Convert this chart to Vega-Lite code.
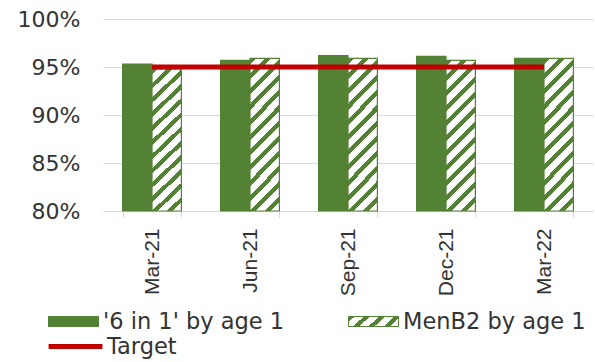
{
  "$schema": "https://vega.github.io/schema/vega-lite/v6.json",
  "width": 490,
  "height": 192,
  "autosize": {"type": "none"},
  "padding": {"left": 103, "top": 19, "right": 2, "bottom": 151},
  "background": "white",
  "config": {
    "view": {"stroke": null},
    "font": "DejaVu Sans"
  },
  "datasets": {
    "bars": [
      {"period": "Mar-21", "series": "'6 in 1' by age 1", "value": 0.953},
      {"period": "Mar-21", "series": "MenB2 by age 1", "value": 0.948},
      {"period": "Jun-21", "series": "'6 in 1' by age 1", "value": 0.957},
      {"period": "Jun-21", "series": "MenB2 by age 1", "value": 0.959},
      {"period": "Sep-21", "series": "'6 in 1' by age 1", "value": 0.962},
      {"period": "Sep-21", "series": "MenB2 by age 1", "value": 0.959},
      {"period": "Dec-21", "series": "'6 in 1' by age 1", "value": 0.961},
      {"period": "Dec-21", "series": "MenB2 by age 1", "value": 0.957},
      {"period": "Mar-22", "series": "'6 in 1' by age 1", "value": 0.959},
      {"period": "Mar-22", "series": "MenB2 by age 1", "value": 0.959}
    ],
    "target": [
      {"period": "Mar-21", "name": "Target", "target": 0.95},
      {"period": "Jun-21", "name": "Target", "target": 0.95},
      {"period": "Sep-21", "name": "Target", "target": 0.95},
      {"period": "Dec-21", "name": "Target", "target": 0.95},
      {"period": "Mar-22", "name": "Target", "target": 0.95}
    ]
  },
  "layer": [
    {
      "data": {"name": "bars"},
      "mark": {"type": "bar", "stroke": "#548235", "strokeWidth": 1.2},
      "encoding": {
        "x": {
          "field": "period", "type": "nominal",
          "sort": ["Mar-21", "Jun-21", "Sep-21", "Dec-21", "Mar-22"],
          "scale": {"paddingInner": 0.4, "paddingOuter": 0.2},
          "axis": {
            "title": null, "labelAngle": -90, "labelFont": "Liberation Sans", "labelFontSize": 21,
            "labelColor": "#333333", "tickBand": "extent", "tickSize": 6, "tickColor": "#d9d9d9",
            "domainColor": "#d9d9d9", "labelPadding": 11, "grid": false
          }
        },
        "xOffset": {"field": "series", "type": "nominal", "sort": ["'6 in 1' by age 1", "MenB2 by age 1"]},
        "y": {
          "field": "value", "type": "quantitative",
          "scale": {"domain": [0.8, 1], "zero": false},
          "axis": {
            "title": null, "values": [0.8, 0.85, 0.9, 0.95, 1], "format": ".0%", "domain": false, "ticks": false,
            "labelPadding": 23, "gridColor": "#d9d9d9", "labelFontSize": 22, "labelFont": "DejaVu Sans", "labelColor": "#333333"
          }
        },
        "y2": {"datum": 0.8},
        "fill": {
          "condition": {
            "test": "datum.series === 'MenB2 by age 1'",
            "value": {"gradient": "linear", "x1": 0, "y1": 0, "x2": 0.226, "y2": 1.152, "stops": [
              {"offset": 0, "color": "#548235"}, {"offset": 0.0333, "color": "#548235"}, {"offset": 0.0333, "color": "#ffffff"}, {"offset": 0.0833, "color": "#ffffff"},
              {"offset": 0.0833, "color": "#548235"}, {"offset": 0.1167, "color": "#548235"}, {"offset": 0.1167, "color": "#ffffff"}, {"offset": 0.1667, "color": "#ffffff"},
              {"offset": 0.1667, "color": "#548235"}, {"offset": 0.2, "color": "#548235"}, {"offset": 0.2, "color": "#ffffff"}, {"offset": 0.25, "color": "#ffffff"},
              {"offset": 0.25, "color": "#548235"}, {"offset": 0.2833, "color": "#548235"}, {"offset": 0.2833, "color": "#ffffff"}, {"offset": 0.3333, "color": "#ffffff"},
              {"offset": 0.3333, "color": "#548235"}, {"offset": 0.3667, "color": "#548235"}, {"offset": 0.3667, "color": "#ffffff"}, {"offset": 0.4167, "color": "#ffffff"},
              {"offset": 0.4167, "color": "#548235"}, {"offset": 0.45, "color": "#548235"}, {"offset": 0.45, "color": "#ffffff"}, {"offset": 0.5, "color": "#ffffff"},
              {"offset": 0.5, "color": "#548235"}, {"offset": 0.5333, "color": "#548235"}, {"offset": 0.5333, "color": "#ffffff"}, {"offset": 0.5833, "color": "#ffffff"},
              {"offset": 0.5833, "color": "#548235"}, {"offset": 0.6167, "color": "#548235"}, {"offset": 0.6167, "color": "#ffffff"}, {"offset": 0.6667, "color": "#ffffff"},
              {"offset": 0.6667, "color": "#548235"}, {"offset": 0.7, "color": "#548235"}, {"offset": 0.7, "color": "#ffffff"}, {"offset": 0.75, "color": "#ffffff"},
              {"offset": 0.75, "color": "#548235"}, {"offset": 0.7833, "color": "#548235"}, {"offset": 0.7833, "color": "#ffffff"}, {"offset": 0.8333, "color": "#ffffff"},
              {"offset": 0.8333, "color": "#548235"}, {"offset": 0.8667, "color": "#548235"}, {"offset": 0.8667, "color": "#ffffff"}, {"offset": 0.9167, "color": "#ffffff"},
              {"offset": 0.9167, "color": "#548235"}, {"offset": 0.95, "color": "#548235"}, {"offset": 0.95, "color": "#ffffff"}, {"offset": 1, "color": "#ffffff"}
            ]}
          },
          "field": "series", "type": "nominal",
          "scale": {
            "domain": ["'6 in 1' by age 1", "MenB2 by age 1"],
            "range": ["#548235", {"expr": "{gradient: 'linear', x1: 0, y1: 0, x2: 1.154, y2: 0.231, stops: [{offset: 0, color: '#548235'}, {offset: 0.1, color: '#548235'}, {offset: 0.1, color: '#ffffff'}, {offset: 0.25, color: '#ffffff'}, {offset: 0.25, color: '#548235'}, {offset: 0.35, color: '#548235'}, {offset: 0.35, color: '#ffffff'}, {offset: 0.5, color: '#ffffff'}, {offset: 0.5, color: '#548235'}, {offset: 0.6, color: '#548235'}, {offset: 0.6, color: '#ffffff'}, {offset: 0.75, color: '#ffffff'}, {offset: 0.75, color: '#548235'}, {offset: 0.85, color: '#548235'}, {offset: 0.85, color: '#ffffff'}, {offset: 1, color: '#ffffff'}]}"}]
          },
          "legend": {
            "orient": "none", "legendX": -55, "legendY": 277, "direction": "horizontal", "title": null,
            "symbolType": "M-1,-0.2H1V0.2H-1Z", "symbolSize": 2500, "labelFontSize": 22.5, "labelFont": "DejaVu Sans",
            "labelColor": "#333333", "columnPadding": 61, "labelOffset": 4, "labelLimit": 400,
            "symbolStrokeColor": "#548235", "symbolStrokeWidth": 1, "padding": 0
          }
        }
      }
    },
    {
      "data": {"name": "target"},
      "mark": {"type": "line", "strokeWidth": 5, "strokeCap": "butt"},
      "encoding": {
        "x": {"field": "period", "type": "nominal", "sort": ["Mar-21", "Jun-21", "Sep-21", "Dec-21", "Mar-22"]},
        "y": {"field": "target", "type": "quantitative"},
        "stroke": {
          "field": "name", "type": "nominal",
          "scale": {"domain": ["Target"], "range": ["#c00000"]},
          "legend": {
            "orient": "none", "legendX": -57, "legendY": 298, "title": null, "symbolType": "stroke",
            "symbolSize": 2900, "symbolStrokeWidth": 5, "labelFontSize": 22.5, "labelFont": "DejaVu Sans",
            "labelColor": "#333333", "labelOffset": 2, "padding": 0
          }
        }
      }
    }
  ]
}
